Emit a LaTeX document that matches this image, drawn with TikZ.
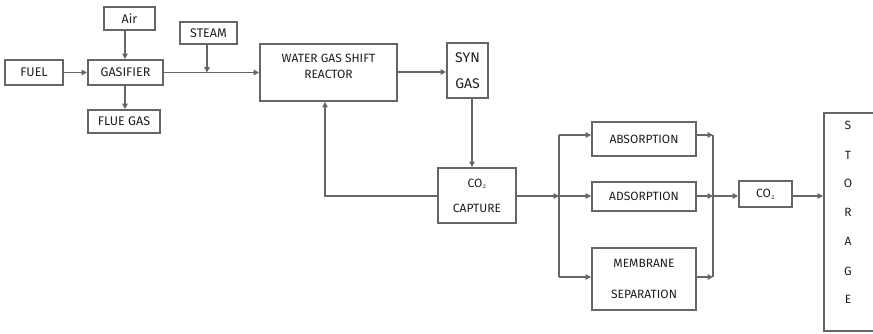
\documentclass[tikz,border=0pt]{standalone}
\usepackage{fontspec}
\setmainfont{Fira Sans}
\usetikzlibrary{arrows.meta}
\definecolor{lc}{HTML}{666666}
\definecolor{tc}{HTML}{1E1E1E}
\begin{document}
\begin{tikzpicture}[x=1pt,y=-1pt,
  box/.style={draw=lc,line width=1.9pt,rectangle,inner sep=0pt,text=tc,font=\fontsize{12.5}{15}\selectfont,align=center},
  conn/.style={draw=lc,line width=1.8pt},
  arr/.style={conn,-{Triangle[length=5.5pt,width=5.5pt]}}]
\useasboundingbox (0,0) rectangle (873,333);
\begin{scope}
\clip (0,0) rectangle (873,333);
\node[box,minimum width=58pt,minimum height=25pt] (fuel) at (34,72.5) {FUEL};
\node[box,minimum width=75pt,minimum height=25pt] (gas) at (125.5,72.5) {GASIFIER};
\node[box,minimum width=51pt,minimum height=23pt] (air) at (129.5,18.5) {Air};
\node[box,minimum width=72pt,minimum height=23pt] (flue) at (124,121.5) {FLUE GAS};
\node[box,minimum width=57pt,minimum height=22pt] (steam) at (208.5,33) {STEAM};
\node[box,minimum width=137pt,minimum height=57pt,anchor=north] (wgs) at (328.5,43) {};
\node[text=tc,font=\fontsize{12}{16}\selectfont,align=center] (wgst) at (328.5,66) {WATER GAS SHIFT\\REACTOR};
\node[box,minimum width=41pt,minimum height=55pt,font=\fontsize{14}{26}\selectfont] (syn) at (467.5,70.5) {SYN\\GAS};
\node[box,minimum width=78pt,minimum height=55pt,font=\fontsize{12}{25}\selectfont] (cap) at (477,195.5) {CO$_{\scriptscriptstyle 2}$\\CAPTURE};
\node[box,minimum width=104pt,minimum height=34pt,font=\fontsize{12}{14}\selectfont] (abs) at (644,139) {ABSORPTION};
\node[box,minimum width=104pt,minimum height=29pt,font=\fontsize{12}{14}\selectfont] (ads) at (644,196.5) {ADSORPTION};
\node[box,minimum width=104pt,minimum height=62pt,font=\fontsize{12}{31}\selectfont] (mem) at (644,279) {MEMBRANE\\SEPARATION};
\node[box,minimum width=53pt,minimum height=26pt,font=\fontsize{12}{14}\selectfont] (co2) at (765.5,194) {CO$_{\scriptscriptstyle 2}$};
\node[box,minimum width=70pt,minimum height=218pt,anchor=north west] (sto) at (823,112) {};
\foreach \l/\yy in {S/125,T/155,O/183,R/212,A/241,G/271,E/299}
  \node[text=tc,font=\fontsize{12}{14}\selectfont] at (848,\yy) {\l};
\end{scope}
% connectors
\draw[arr] (fuel) -- (gas);
\draw[arr] (air.south -| 125,0) -- (gas.north -| 125,0);
\draw[arr] (gas.south -| 125,0) -- (flue.north -| 125,0);
\coordinate (sj) at (207,72.5);
\draw[arr] (gas.east) -- (wgs.west |- gas.east);
\draw[arr] (steam.south -| sj) -- (sj);
\draw[arr] (wgs.east |- 0,72) -- (syn.west |- 0,72);
\draw[arr] (syn.south -| 472,0) -- (cap.north -| 472,0);
\draw[arr] (cap.west |- 0,196) -| (wgs.south -| 325,0);
\coordinate (bl) at (559,196);
\coordinate (br) at (713,196);
\draw[arr] (cap.east |- bl) -- (bl);
\draw[conn] (559,135) -- (559,277);
\draw[arr] (559,135) -- (abs.west |- 0,135);
\draw[arr] (bl) -- (ads.west |- bl);
\draw[arr] (559,277) -- (mem.west |- 0,277);
\draw[conn] (713,135) -- (713,277);
\draw[arr] (abs.east |- 0,135) -- (713,135);
\draw[arr] (ads.east |- br) -- (br);
\draw[arr] (mem.east |- 0,277) -- (713,277);
\draw[arr] (br) -- (co2.west |- br);
\draw[arr] (co2.east |- br) -- (sto.west |- br);
\end{tikzpicture}
\end{document}
